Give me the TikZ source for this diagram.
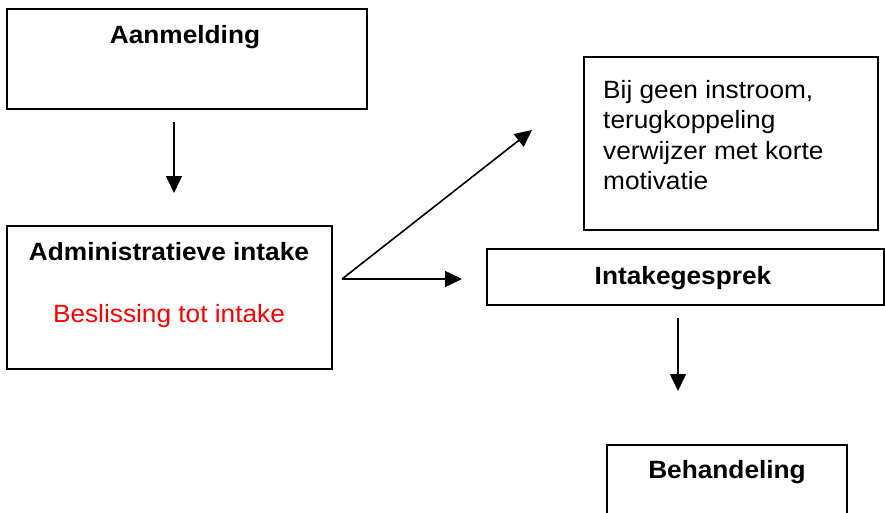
\documentclass[tikz,border=0pt]{standalone}
\usepackage{fontspec}
\setmainfont{Liberation Sans}[FakeStretch=1.05]
\usetikzlibrary{arrows.meta}
\begin{document}
\begin{tikzpicture}[x=1pt,y=-1pt,
  box/.style={draw=black,line width=1.6pt,rectangle,inner sep=0pt,anchor=north west},
  title/.style={font=\fontsize{25}{30}\selectfont\bfseries,anchor=base,inner sep=0pt},
  plain/.style={font=\fontsize{25}{30.5}\selectfont,inner sep=0pt},
  arr/.style={line width=1.6pt,-{Triangle[length=17pt,width=16pt]}}]
\useasboundingbox (0,0) rectangle (885,512);
% boxes
\node[box,minimum width=360pt,minimum height=100pt] (aan) at (6,8) {};
\node[box,minimum width=325pt,minimum height=143pt] (adm) at (6,225) {};
\node[box,minimum width=294pt,minimum height=173pt] (bij) at (583,56) {};
\node[box,minimum width=397pt,minimum height=56pt] (int) at (486,248) {};
\node[box,minimum width=240pt,minimum height=90pt] (beh) at (606,444) {};
% texts
\node[title] (taan) at (185,43) {Aanmelding};
\node[title] (tadm) at (169,260) {Administratieve intake};
\node[plain,anchor=base,text=red] (tbes) at (169,322) {Beslissing tot intake};
\node[plain,anchor=north west,align=left] (tbij) at (603,80) {Bij geen instroom,\\terugkoppeling\\verwijzer met korte\\motivatie};
\node[title] (tint) at (683,284) {Intakegesprek};
\node[title] (tbeh) at (727,478) {Behandeling};
% connectors
\coordinate (a1s) at (174,122);
\coordinate (a1e) at (174,193);
\draw[arr] (a1s) -- (a1e);
\coordinate (split) at (342,279);
\coordinate (dge) at (532,130);
\coordinate (hze) at (462,279);
\draw[arr] (split) -- (dge);
\draw[arr] (split) -- (hze);
\coordinate (a3s) at (678,318);
\coordinate (a3e) at (678,391);
\draw[arr] (a3s) -- (a3e);
\end{tikzpicture}
\end{document}
